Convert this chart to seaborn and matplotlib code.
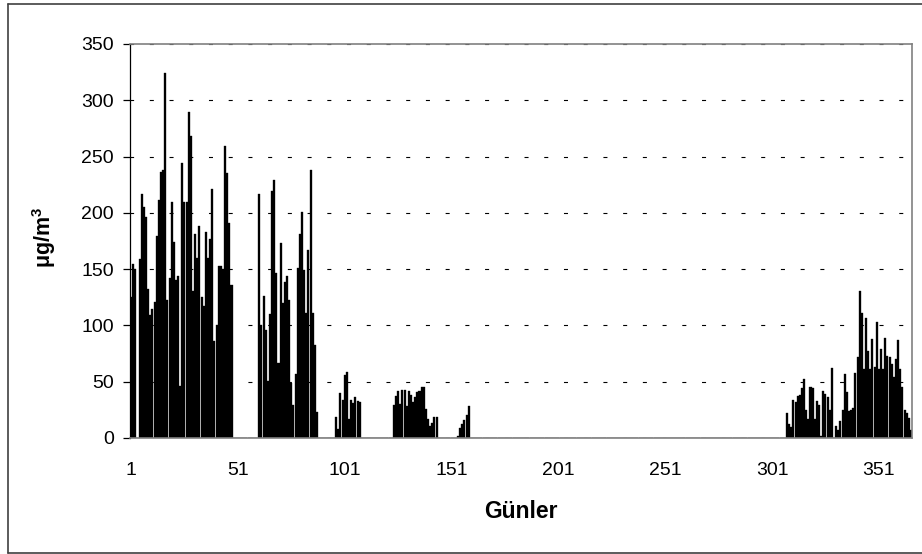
import numpy as np
import pandas as pd
import matplotlib
matplotlib.use("Agg")
import matplotlib.pyplot as plt
from matplotlib.lines import Line2D
import seaborn as sns

# ---------------- data ----------------
n_days = 366
tick_days = [1, 51, 101, 151, 201, 251, 301, 351]
y_ticks = [0, 50, 100, 150, 200, 250, 300, 350]

# first day of each run of measured values (days between runs are 0)
seg_starts = [1, 61, 97, 124, 154, 308]
seg1 = [125, 155, 150, 0, 159, 217, 205, 196, 132, 109, 115, 121, 179, 211, 236, 238,
        324, 123, 142, 210, 174, 140, 144, 46, 244, 210, 210, 290, 268, 131, 181, 160,
        188, 125, 117, 183, 160, 177, 221, 86, 100, 153, 153, 150, 259, 235, 191, 136]
seg2 = [217, 100, 126, 96, 51, 110, 219, 229, 147, 67, 173, 120, 139, 144, 123, 49,
        29, 57, 151, 181, 201, 149, 111, 167, 238, 111, 83, 23]
seg3 = [19, 8, 40, 34, 56, 59, 17, 34, 31, 36, 33, 32]
seg4 = [29, 37, 42, 30, 43, 43, 28, 42, 38, 32, 36, 41, 42, 45, 45, 26, 17, 11, 13, 19, 19]
seg5 = [2, 9, 12, 16, 20, 28]
seg6 = [22, 12, 10, 34, 32, 37, 38, 44, 52, 25, 17, 45, 44, 17, 33, 29, 2, 42, 39, 36,
        25, 62, 0, 11, 7, 15, 25, 57, 41, 24, 25, 27, 58, 72, 131, 111, 61, 107, 77, 61,
        88, 63, 103, 61, 79, 61, 89, 73, 72, 66, 54, 70, 87, 61, 45, 25, 22, 18, 7]
segments = [seg1, seg2, seg3, seg4, seg5, seg6]

days = np.arange(1, n_days + 1)
values = np.zeros(n_days)
for start, seg in zip(seg_starts, segments):
    values[start - 1:start - 1 + len(seg)] = seg
df = pd.DataFrame({"day": days, "value": values})

# ---------------- style ----------------
sns.set_theme(style="white")
plt.rcParams["font.family"] = ["Liberation Sans", "DejaVu Sans"]
plt.rcParams["lines.scale_dashes"] = False
plt.rcParams["mathtext.fontset"] = "custom"
plt.rcParams["mathtext.rm"] = "Liberation Sans"
plt.rcParams["mathtext.it"] = "Liberation Sans:italic"
plt.rcParams["mathtext.bf"] = "Liberation Sans:bold"

W, H = 922, 554
fig = plt.figure(figsize=(W / 100, H / 100), dpi=100)
fig.patch.set_facecolor("white")

ax_l, ax_r, ax_t, ax_b = 130, 912, 44, 438
ax = fig.add_axes([ax_l / W, 1 - ax_b / H, (ax_r - ax_l) / W, (ax_b - ax_t) / H])

sns.barplot(data=df, x="day", y="value", color="black", saturation=1,
            width=0.95, errorbar=None, linewidth=0.25, edgecolor="black", ax=ax)

ax.set_xlim(-0.5, n_days - 0.5)
ax.set_ylim(0, 350)
ax.set_yticks(y_ticks)
ax.set_yticklabels([str(v) for v in y_ticks])
ax.set_xticks([d - 1 for d in tick_days])
ax.set_xticklabels([str(d) for d in tick_days])

# gridlines (dashed, behind bars)
ax.set_axisbelow(True)
ax.yaxis.grid(True, color="black", linewidth=0.8, linestyle=(0.3, (2.9, 11.3)))
ax.xaxis.grid(False)

# spines
for side in ["top", "right", "bottom"]:
    ax.spines[side].set_color("#808080")
    ax.spines[side].set_linewidth(1.2)
    ax.spines[side].set_visible(True)
ax.spines["left"].set_color("black")
ax.spines["left"].set_linewidth(0.9)
ax.spines["left"].set_visible(True)

ax.tick_params(axis="y", which="major", direction="out", length=4.7, width=0.9,
               color="black", labelsize=14, pad=7, left=True, labelcolor="black")
ax.tick_params(axis="x", which="major", length=0, labelsize=14, pad=17,
               labelcolor="black", bottom=True)

ax.set_xlabel("Günler", fontsize=16.5, fontweight="bold", color="black")
ax.set_ylabel(r"$\mathbf{\mu g/m^3}$", fontsize=15.5, color="black")
ax.xaxis.set_label_coords(0.5, -0.158)
ax.yaxis.set_label_coords(-0.092, 0.51)

# outer chart border
bc = "#404040"
lx = 7.5 / W
ty = 1 - 4 / H
by = 1 - 552.5 / H
fig.add_artist(Line2D([lx, lx], [by, ty], transform=fig.transFigure, color=bc, linewidth=1.2))
fig.add_artist(Line2D([lx, 1.0], [ty, ty], transform=fig.transFigure, color=bc, linewidth=1.2))
fig.add_artist(Line2D([lx, 1.0], [by, by], transform=fig.transFigure, color=bc, linewidth=1.2))

fig.savefig("out.png", dpi=100, facecolor="white")
